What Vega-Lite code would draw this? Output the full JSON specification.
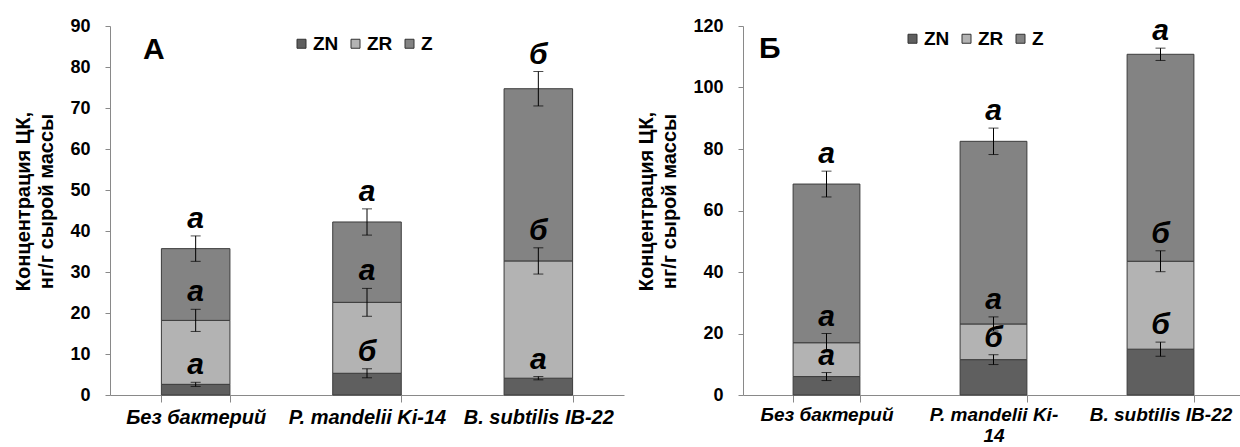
{
  "$schema": "https://vega.github.io/schema/vega-lite/v6.json",
  "background": "white",
  "padding": {"left": 13, "top": 16, "right": 0, "bottom": 0},
  "spacing": 12,
  "config": {
    "view": {"stroke": null},
    "font": "Liberation Sans",
    "axis": {
      "labelFont": "Liberation Sans", "labelFontSize": 18, "labelFontWeight": "bold", "labelColor": "black",
      "domainColor": "#898989", "tickColor": "#898989", "grid": false,
      "titleFont": "Liberation Sans", "titleFontSize": 20, "titleFontWeight": "bold", "titleColor": "black"
    },
    "legend": {
      "orient": "none", "direction": "horizontal", "title": null, "symbolType": "square", "symbolSize": 81,
      "symbolStrokeColor": "#333333", "symbolStrokeWidth": 1, "labelFont": "Liberation Sans", "labelFontSize": 19,
      "labelFontWeight": "bold", "labelColor": "black", "labelOffset": 2, "columnPadding": 7, "padding": 0
    }
  },
  "datasets": {
    "A": [
      {"group": "Без бактерий", "series": "ZN", "ord": 1, "value": 2.6, "lo": 2.1, "hi": 3.1, "letter": "а"},
      {"group": "Без бактерий", "series": "ZR", "ord": 2, "value": 15.6, "lo": 15.5, "hi": 20.9, "letter": "а"},
      {"group": "Без бактерий", "series": "Z", "ord": 3, "value": 17.5, "lo": 32.6, "hi": 38.8, "letter": "а"},
      {"group": "P. mandelii Ki-14", "series": "ZN", "ord": 1, "value": 5.3, "lo": 4.2, "hi": 6.4, "letter": "б"},
      {"group": "P. mandelii Ki-14", "series": "ZR", "ord": 2, "value": 17.3, "lo": 19.2, "hi": 26.0, "letter": "а"},
      {"group": "P. mandelii Ki-14", "series": "Z", "ord": 3, "value": 19.6, "lo": 39.0, "hi": 45.4, "letter": "а"},
      {"group": "B. subtilis IB-22", "series": "ZN", "ord": 1, "value": 4.1, "lo": 3.7, "hi": 4.5, "letter": "а"},
      {"group": "B. subtilis IB-22", "series": "ZR", "ord": 2, "value": 28.6, "lo": 29.5, "hi": 35.9, "letter": "б"},
      {"group": "B. subtilis IB-22", "series": "Z", "ord": 3, "value": 42.0, "lo": 70.5, "hi": 78.9, "letter": "б"}
    ],
    "B": [
      {"group": "Без бактерий", "series": "ZN", "ord": 1, "value": 6.0, "lo": 4.7, "hi": 7.3, "letter": "а"},
      {"group": "Без бактерий", "series": "ZR", "ord": 2, "value": 11.0, "lo": 14.0, "hi": 20.0, "letter": "а"},
      {"group": "Без бактерий", "series": "Z", "ord": 3, "value": 51.6, "lo": 64.4, "hi": 72.8, "letter": "а"},
      {"group": "P. mandelii Ki-14", "series": "ZN", "ord": 1, "value": 11.5, "lo": 9.9, "hi": 13.1, "letter": "б"},
      {"group": "P. mandelii Ki-14", "series": "ZR", "ord": 2, "value": 11.6, "lo": 20.8, "hi": 25.4, "letter": "а"},
      {"group": "P. mandelii Ki-14", "series": "Z", "ord": 3, "value": 59.4, "lo": 78.2, "hi": 86.8, "letter": "а"},
      {"group": "B. subtilis IB-22", "series": "ZN", "ord": 1, "value": 14.9, "lo": 12.6, "hi": 17.2, "letter": "б"},
      {"group": "B. subtilis IB-22", "series": "ZR", "ord": 2, "value": 28.6, "lo": 40.1, "hi": 46.9, "letter": "б"},
      {"group": "B. subtilis IB-22", "series": "Z", "ord": 3, "value": 67.3, "lo": 108.8, "hi": 112.8, "letter": "а"}
    ]
  },
  "resolve": {"legend": {"color": "independent"}, "scale": {"color": "independent"}},
  "hconcat": [
    {
      "width": 514, "height": 369,
      "data": {"name": "A"},
      "title": {"text": "А", "anchor": "start", "frame": "group", "font": "Liberation Sans", "fontSize": 30, "fontWeight": "bold", "color": "black", "baseline": "alphabetic", "offset": 0, "dx": 33, "dy": 72},
      "encoding": {
        "x": {"field": "group", "type": "nominal", "sort": ["Без бактерий", "P. mandelii Ki-14", "B. subtilis IB-22"],
          "scale": {"paddingInner": 0.6, "paddingOuter": 0.3},
          "axis": {"title": null, "tickBand": "extent", "tickSize": 7, "labelPadding": 5, "labelAngle": 0, "labelFontStyle": "italic", "labelFontSize": 20, "labelLimit": 400, "labelOverlap": false}}
      },
      "layer": [
        {
          "mark": {"type": "bar", "stroke": "#3c3c3c", "strokeWidth": 1},
          "encoding": {
            "y": {"field": "value", "type": "quantitative", "stack": "zero", "title": ["Концентрация ЦК,", "нг/г сырой массы"],
              "scale": {"domain": [0, 90], "nice": false},
              "axis": {"values": [0, 10, 20, 30, 40, 50, 60, 70, 80, 90], "tickSize": 5, "labelPadding": 15, "titlePadding": 13, "titleLineHeight": 23, "titleY": 175}},
            "color": {"field": "series", "type": "nominal", "scale": {"domain": ["ZN", "ZR", "Z"], "range": ["#5f5f5f", "#b3b3b3", "#838383"]},
              "legend": {"legendX": 182, "legendY": 8}},
            "order": {"field": "ord", "type": "quantitative"}
          }
        },
        {
          "mark": {"type": "rule", "color": "black", "strokeWidth": 1},
          "encoding": {"y": {"field": "lo", "type": "quantitative", "title": ["Концентрация ЦК,", "нг/г сырой массы"]}, "y2": {"field": "hi"}}
        },
        {
          "mark": {"type": "tick", "color": "black", "size": 10, "thickness": 1},
          "encoding": {"y": {"field": "lo", "type": "quantitative", "title": ["Концентрация ЦК,", "нг/г сырой массы"]}}
        },
        {
          "mark": {"type": "tick", "color": "black", "size": 10, "thickness": 1},
          "encoding": {"y": {"field": "hi", "type": "quantitative", "title": ["Концентрация ЦК,", "нг/г сырой массы"]}}
        },
        {
          "mark": {"type": "text", "font": "Liberation Sans", "fontSize": 30, "fontWeight": "bold", "fontStyle": "italic", "baseline": "alphabetic", "dy": -8, "color": "black"},
          "encoding": {"y": {"field": "hi", "type": "quantitative", "title": ["Концентрация ЦК,", "нг/г сырой массы"]}, "text": {"field": "letter"}}
        }
      ]
    },
    {
      "width": 501, "height": 369,
      "data": {"name": "B"},
      "title": {"text": "Б", "anchor": "start", "frame": "group", "font": "Liberation Sans", "fontSize": 30, "fontWeight": "bold", "color": "black", "baseline": "alphabetic", "offset": 0, "dx": 16, "dy": 72},
      "encoding": {
        "x": {"field": "group", "type": "nominal", "sort": ["Без бактерий", "P. mandelii Ki-14", "B. subtilis IB-22"],
          "scale": {"paddingInner": 0.6, "paddingOuter": 0.3},
          "axis": {"title": null, "tickBand": "extent", "tickSize": 7, "labelPadding": 3, "labelAngle": 0, "labelFontStyle": "italic", "labelFontSize": 19, "labelLimit": 400, "labelOverlap": false, "labelLineHeight": 21,
            "labelExpr": "datum.value == 'P. mandelii Ki-14' ? ['P. mandelii Ki-', '14'] : datum.label"}}
      },
      "layer": [
        {
          "mark": {"type": "bar", "stroke": "#3c3c3c", "strokeWidth": 1},
          "encoding": {
            "y": {"field": "value", "type": "quantitative", "stack": "zero", "title": ["Концентрация ЦК,", "нг/г сырой массы"],
              "scale": {"domain": [0, 120], "nice": false},
              "axis": {"values": [0, 20, 40, 60, 80, 100, 120], "tickSize": 5, "labelPadding": 15, "titlePadding": 13, "titleLineHeight": 23, "titleY": 175}},
            "color": {"field": "series", "type": "nominal", "scale": {"domain": ["ZN", "ZR", "Z"], "range": ["#5f5f5f", "#b3b3b3", "#838383"]},
              "legend": {"legendX": 160, "legendY": 3}},
            "order": {"field": "ord", "type": "quantitative"}
          }
        },
        {
          "mark": {"type": "rule", "color": "black", "strokeWidth": 1},
          "encoding": {"y": {"field": "lo", "type": "quantitative", "title": ["Концентрация ЦК,", "нг/г сырой массы"]}, "y2": {"field": "hi"}}
        },
        {
          "mark": {"type": "tick", "color": "black", "size": 10, "thickness": 1},
          "encoding": {"y": {"field": "lo", "type": "quantitative", "title": ["Концентрация ЦК,", "нг/г сырой массы"]}}
        },
        {
          "mark": {"type": "tick", "color": "black", "size": 10, "thickness": 1},
          "encoding": {"y": {"field": "hi", "type": "quantitative", "title": ["Концентрация ЦК,", "нг/г сырой массы"]}}
        },
        {
          "mark": {"type": "text", "font": "Liberation Sans", "fontSize": 30, "fontWeight": "bold", "fontStyle": "italic", "baseline": "alphabetic", "dy": -8, "color": "black"},
          "encoding": {"y": {"field": "hi", "type": "quantitative", "title": ["Концентрация ЦК,", "нг/г сырой массы"]}, "text": {"field": "letter"}}
        }
      ]
    }
  ]
}
